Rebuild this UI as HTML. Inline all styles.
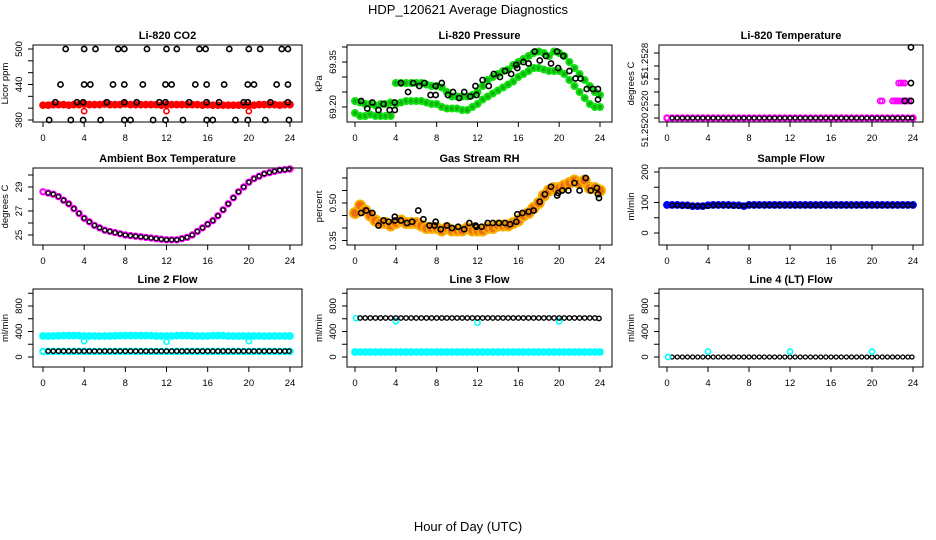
<!DOCTYPE html>
<html><head><meta charset="utf-8"><style>
html,body{margin:0;padding:0;background:#fff;}
svg{display:block;font-family:"Liberation Sans",sans-serif;}
</style></head><body>
<svg id="c" width="936" height="540" viewBox="0 0 936 540">
<text x="468" y="14" text-anchor="middle" font-size="13">HDP_120621  Average Diagnostics</text>
<text x="468" y="531" text-anchor="middle" font-size="13">Hour of Day (UTC)</text>
</svg>
<script>
const hrs=[0,0.5,1,1.5,2,2.5,3,3.5,4,4.5,5,5.5,6,6.5,7,7.5,8,8.5,9,9.5,10,10.5,11,11.5,12,12.5,13,13.5,14,14.5,15,15.5,16,16.5,17,17.5,18,18.5,19,19.5,20,20.5,21,21.5,22,22.5,23,23.5,24];
const hrsB=[0.5,1,1.5,2,2.5,3,3.5,4,4.5,5,5.5,6,6.5,7,7.5,8,8.5,9,9.5,10,10.5,11,11.5,12,12.5,13,13.5,14,14.5,15,15.5,16,16.5,17,17.5,18,18.5,19,19.5,20,20.5,21,21.5,22,22.5,23,23.5,23.9];
// CO2
const co2Red=[405,405,406,406,406,405,406,406,407,406,406,406,407,406,406,406,407,406,406,406,406,406,406,405,406,406,406,406,406,406,406,405,406,405,405,405,405,405,405,405,405,405,406,406,406,406,405,406,406];
const co2RedOutH=[4,12,20];
const co2RedOutV=[395,395,395];
const co2BlackH=[2.2,4,5.1,7.3,7.9,10.1,12,13,15.2,15.8,18.1,20,21.1,23.2,23.8, 1.7,4,4.6,6.8,7.9,9.7,11.9,12.5,14.8,15.9,17.6,19.9,20.5,22.7,23.8, 1.2,3.3,3.9,6.2,7.9,9.1,11.3,11.9,14.2,15.9,17.1,19.5,19.9,22.1,23.8, 0.6,2.7,3.9,5.6,7.9,8.5,10.7,11.9,13.6,15.9,16.5,18.7,19.9,21.6,23.9];
const co2BlackV=[500,500,500,500,500,500,500,500,500,500,500,500,500,500,500, 440,440,440,440,440,440,440,440,440,440,440,440,440,440,440, 410,410,410,410,410,410,410,410,410,410,410,410,410,410,410, 380,380,380,380,380,380,380,380,380,380,380,380,380,380,380];
// Pressure
const presA=[69.22,69.215,69.21,69.21,69.205,69.21,69.21,69.215,69.28,69.28,69.28,69.28,69.28,69.28,69.275,69.27,69.27,69.265,69.25,69.235,69.235,69.235,69.235,69.24,69.25,69.27,69.29,69.30,69.31,69.32,69.325,69.34,69.35,69.36,69.37,69.38,69.385,69.38,69.37,69.385,69.38,69.37,69.35,69.33,69.31,69.29,69.27,69.25,69.24];
const presB=[69.18,69.17,69.17,69.175,69.17,69.17,69.17,69.17,69.21,69.215,69.22,69.22,69.22,69.22,69.215,69.21,69.21,69.2,69.195,69.195,69.195,69.19,69.19,69.2,69.21,69.225,69.235,69.245,69.255,69.265,69.275,69.285,69.3,69.31,69.32,69.33,69.33,69.325,69.32,69.32,69.32,69.31,69.29,69.27,69.25,69.23,69.21,69.2,69.2];
const presBlackH=[0.6,1.2,1.7,2.3,2.8,3.4,3.9,3.9,4.5,5.2,5.7,6.3,6.8,7.4,7.9,7.9,8.5,9.1,9.6,10.2,10.7,11.3,11.8,11.9,12.5,13.1,13.6,14.2,14.7,15.3,15.8,15.9,16.5,17.0,17.6,18.1,18.7,19.2,19.8,19.9,20.4,21.0,21.6,22.1,22.7,23.3,23.8,23.8];
const presBlackV=[69.22,69.195,69.215,69.19,69.21,69.19,69.215,69.19,69.28,69.25,69.28,69.27,69.28,69.24,69.27,69.24,69.28,69.24,69.25,69.23,69.25,69.235,69.27,69.24,69.29,69.27,69.31,69.30,69.32,69.31,69.34,69.33,69.35,69.345,69.385,69.355,69.37,69.345,69.385,69.33,69.37,69.32,69.295,69.295,69.26,69.26,69.26,69.225];
// Li-820 temperature
const tempMag=[51.2520,51.2520,51.2520,51.2520,51.2520,51.2520,51.2520,51.2520,51.2520,51.2520,51.2520,51.2520,51.2520,51.2520,51.2520,51.2520,51.2520,51.2520,51.2520,51.2520,51.2520,51.2520,51.2520,51.2520,51.2520,51.2520,51.2520,51.2520,51.2520,51.2520,51.2520,51.2520,51.2520,51.2520,51.2520,51.2520,51.2520,51.2520,51.2520,51.2520,51.2520,51.2520,51.2520,51.2520,51.2520,51.2520,51.2520,51.2520,51.2520];
const tempMagHiH=[20.8,21.0,22.0,22.2,22.4,22.6,22.8,23.0,23.2,23.4,23.6,22.6,22.8,23.0,23.2];
const tempMagHiV=[51.25221,51.25221,51.25221,51.25221,51.25221,51.25221,51.25221,51.25221,51.25221,51.25221,51.25221,51.25243,51.25243,51.25243,51.25243];
const tempBlackHiH=[23.2,23.8,23.8,23.8];
const tempBlackHiV=[51.25221,51.25221,51.25243,51.25287];
// Ambient
const ambient=[28.6,28.5,28.4,28.2,27.9,27.6,27.2,26.8,26.4,26.1,25.8,25.6,25.4,25.3,25.2,25.1,25.0,24.95,24.9,24.85,24.8,24.75,24.7,24.65,24.6,24.6,24.6,24.7,24.8,25.0,25.3,25.6,25.9,26.2,26.6,27.1,27.6,28.1,28.6,29.0,29.4,29.7,29.9,30.1,30.2,30.3,30.4,30.45,30.5];
// RH
const rhBand=[0.46,0.49,0.47,0.45,0.43,0.42,0.42,0.41,0.42,0.43,0.42,0.42,0.42,0.41,0.40,0.40,0.40,0.39,0.40,0.39,0.39,0.39,0.40,0.39,0.39,0.39,0.40,0.40,0.41,0.41,0.41,0.42,0.43,0.45,0.46,0.48,0.50,0.53,0.55,0.56,0.56,0.57,0.58,0.59,0.58,0.59,0.56,0.56,0.55];
const rhBlackH=[0.6,1.1,1.7,2.3,2.8,3.3,3.9,3.9,4.5,5.1,5.6,6.2,6.7,7.3,7.8,7.9,8.4,9.0,9.5,10.1,10.7,11.2,11.8,11.9,12.4,13.0,13.5,14.1,14.7,15.2,15.8,15.9,16.4,17.0,17.5,18.1,18.6,19.2,19.8,19.9,20.3,20.9,21.5,22.0,22.6,23.1,23.7,23.8,23.9];
const rhBlackV=[0.46,0.47,0.46,0.41,0.43,0.425,0.445,0.43,0.43,0.42,0.425,0.47,0.435,0.41,0.41,0.425,0.395,0.41,0.40,0.405,0.395,0.42,0.41,0.405,0.405,0.42,0.42,0.42,0.42,0.415,0.425,0.455,0.46,0.465,0.47,0.505,0.535,0.565,0.53,0.54,0.55,0.55,0.58,0.55,0.60,0.55,0.56,0.535,0.52];
// Sample flow
const sampleBlue=[92,92,92,91,91,88,88,88,91,92,92,92,92,91,91,88,92,92,92,92,92,92,92,92,92,92,92,92,92,92,92,92,92,92,92,92,92,92,92,92,92,92,92,92,92,92,92,92,92];
const sampleBlack=[91,91,90,90,89,88,88,88,91,91,91,90,90,89,89,91,91,91,91,91,91,91,91,91,91,91,91,91,91,91,91,91,91,91,91,91,91,91,91,91,91,91,91,91,91,91,91,91];
// Line 2
const l2Cyan=[330,328,330,332,335,335,335,335,330,330,330,328,330,330,332,335,335,335,335,335,335,335,330,330,330,330,335,335,335,332,330,330,330,335,335,335,330,330,328,330,330,330,330,328,330,330,330,330,330];
const l2CyanOutH=[4,12,20];
const l2CyanOutV=[250,240,250];
const l2CyanLow=[88,88,88,88,88,88,88,88,88,88,88,88,88,88,88,88,88,88,88,88,88,88,88,88,88,88,88,88,88,88,88,88,88,88,88,88,88,88,88,88,88,88,88,88,88,88,88,88,88];
const l2Black=[92,92,92,92,92,92,92,92,92,92,92,92,92,92,92,92,92,92,92,92,92,92,92,92,92,92,92,92,92,92,92,92,92,92,92,92,92,92,92,92,92,92,92,92,92,92,92,92];
// Line 3
const l3Black=[612,612,612,612,612,612,612,612,612,612,612,612,612,612,612,612,612,612,612,612,612,612,612,612,612,612,612,612,612,612,612,612,612,612,612,612,612,612,612,612,612,612,612,612,612,612,612,605];
const l3Cyan=[78,78,78,78,78,78,78,78,78,78,78,78,78,78,78,78,78,78,78,78,78,78,78,78,78,78,78,78,78,78,78,78,78,78,78,78,78,78,78,78,78,78,78,78,78,78,78,78,78];
const l3CyanOutH=[0.1,4,12,20];
const l3CyanOutV=[610,560,540,560];
// Line 4
const l4Black=[0,0,0,0,0,0,0,0,0,0,0,0,0,0,0,0,0,0,0,0,0,0,0,0,0,0,0,0,0,0,0,0,0,0,0,0,0,0,0,0,0,0,0,0,0,0,0,0];
const l4CyanH=[0.1,4,12,20];
const l4CyanV=[0,85,85,85];

const xTicks=[0,4,8,12,16,20,24];
const NS='http://www.w3.org/2000/svg';
const svg=document.getElementById('c');
function mk(tag,attrs,parent){const e=document.createElementNS(NS,tag);for(const k in attrs)e.setAttribute(k,attrs[k]);(parent||svg).appendChild(e);return e;}

function panel(name,title,ylab,l,r,t,b,x0,x24,v1,y1,v2,y2,yTicks,yLabels,yLabelPos){
  const g=mk('g',{});
  
  
  const X=h=>x0+(x24-x0)*h/24;
  const Y=v=>y1+(y2-y1)*(v-v1)/(v2-v1);
  const tt=mk('text',{x:(l+r)/2,y:t-6,'text-anchor':'middle','font-size':11,'font-weight':'bold'},g);
  tt.textContent=title;
  
  
  const yt=mk('text',{transform:`translate(${l-25},${(t+b)/2}) rotate(-90)`,'text-anchor':'middle','font-size':9.5},g);
  yt.textContent=ylab;
  
  
  const xa=mk('g',{},g);
  
  
  mk('line',{x1:X(0),x2:X(24),y1:b,y2:b,stroke:'#000'},xa);
  xTicks.forEach(h=>{
    mk('line',{x1:X(h),x2:X(h),y1:b,y2:b+5,stroke:'#000'},xa);
    const tx=mk('text',{x:X(h),y:b+19,'text-anchor':'middle','font-size':9.5},xa);
    tx.textContent=h;
  });
  const ya=mk('g',{},g);
  
  
  mk('line',{x1:l,x2:l,y1:Y(yTicks[0]),y2:Y(yTicks[yTicks.length-1]),stroke:'#000'},ya);
  yTicks.forEach(v=>mk('line',{x1:l-5,x2:l,y1:Y(v),y2:Y(v),stroke:'#000'},ya));
  yLabels.forEach((s,i)=>{
    const yy=yLabelPos?yLabelPos[i]:Y(parseFloat(s));
    const tx=mk('text',{transform:`translate(${l-11},${yy}) rotate(-90)`,'text-anchor':'middle','font-size':9.5},ya);
    tx.textContent=s;
  });
  const plot=mk('g',{},g);
  
  
  mk('rect',{x:l,y:t,width:r-l,height:b-t,fill:'none',stroke:'#000'},g);
  return {X,Y,plot};
}
function pts(P,name,hs,vs,color,opts){
  const o=opts||{};
  const g=mk('g',{},P.plot);
  
  
  for(let i=0;i<vs.length;i++){
    mk('circle',{cx:P.X(hs[i]),cy:P.Y(vs[i]),r:o.r||2.6,fill:o.fill||'none',stroke:color,'stroke-width':o.sw||1.6},g);
  }
}
const C1=[33,302,43,290],C2=[347,612,355,600],C3=[659,923,667,913];
const R1=[45,122],R2=[168,245],R3=[289,367];

let P=panel('co2','Li-820 CO2','Licor ppm',C1[0],C1[1],R1[0],R1[1],C1[2],C1[3],500,49,380,120,[380,400,420,440,460,480,500],['380','440','500']);
pts(P,'co2-red-series',hrs,co2Red,'#f00',{r:2.6,sw:2.5,fill:'#f00'});
pts(P,'co2-red-outliers',co2RedOutH,co2RedOutV,'#f00');
pts(P,'co2-black-series',co2BlackH,co2BlackV,'#000');

P=panel('pressure','Li-820 Pressure','kPa',C2[0],C2[1],R1[0],R1[1],C2[2],C2[3],69.35,62,69.20,107,[69.20,69.25,69.30,69.35,69.40],['69.20','69.35']);
pts(P,'pressure-green-upper',hrs,presA,'#10e010',{r:3,sw:2,fill:'#10b010'});
pts(P,'pressure-green-lower',hrs,presB,'#10e010',{r:3,sw:2,fill:'#10b010'});
pts(P,'pressure-black-series',presBlackH,presBlackV,'#000');

P=panel('li820-temp','Li-820 Temperature','degrees C',C3[0],C3[1],R1[0],R1[1],C3[2],C3[3],51.2520,118,51.2528,53,[51.2520,51.25216,51.25232,51.25248,51.25264,51.2528],['51.2528','51','2520','51.2520'],[60,80,101,130]);
pts(P,'temp-magenta-series',hrs,tempMag,'#f0f',{r:2.6,sw:2.2});
pts(P,'temp-magenta-high',tempMagHiH,tempMagHiV,'#f0f');
pts(P,'temp-black-series',hrsB,tempMag.slice(0,48),'#000',{r:2,sw:1.3});
pts(P,'temp-black-high',tempBlackHiH,tempBlackHiV,'#000');

P=panel('ambient','Ambient Box Temperature','degrees C',C1[0],C1[1],R2[0],R2[1],C1[2],C1[3],29,187,25,235,[25,26,27,28,29,30],['25','27','29']);
pts(P,'ambient-magenta-series',hrs,ambient,'#f0f',{r:2.6,sw:2.2});
pts(P,'ambient-black-series',hrsB,ambient.slice(1),'#000',{r:2,sw:1.3});

P=panel('rh','Gas Stream RH','percent',C2[0],C2[1],R2[0],R2[1],C2[2],C2[3],0.50,203,0.35,240.5,[0.35,0.40,0.45,0.50,0.55,0.60],['0.35','0.50']);
pts(P,'rh-orange-band',hrs,rhBand,'#f5b000',{r:5,sw:2,fill:'#f06a10'});
pts(P,'rh-black-series',rhBlackH,rhBlackV,'#000');

P=panel('sample-flow','Sample Flow','ml/min',C3[0],C3[1],R2[0],R2[1],C3[2],C3[3],0,233,200,172,[0,50,100,150,200],['0','100','200']);
pts(P,'sample-blue-series',hrs,sampleBlue,'#00f',{r:2.8,sw:2.2,fill:'#00f'});
pts(P,'sample-black-series',hrsB,sampleBlack,'#000',{r:2.2,sw:1.4});

const fT=[0,200,400,600,800,1000],fL=['0','400','800'];
P=panel('line2','Line 2 Flow','ml/min',C1[0],C1[1],R3[0],R3[1],C1[2],C1[3],0,357,800,306,fT,fL);
pts(P,'line2-cyan-series',hrs,l2Cyan,'#0ff',{r:2.8,sw:2.2,fill:'#0ff'});
pts(P,'line2-cyan-outliers',l2CyanOutH,l2CyanOutV,'#0ff');
pts(P,'line2-cyan-low',hrs,l2CyanLow,'#0ff',{r:2.8,sw:2});
pts(P,'line2-black-series',hrsB,l2Black,'#000',{r:2.2,sw:1.4});

P=panel('line3','Line 3 Flow','ml/min',C2[0],C2[1],R3[0],R3[1],C2[2],C2[3],0,357,800,306,fT,fL);
pts(P,'line3-cyan-series',hrs,l3Cyan,'#0ff',{r:2.8,sw:2.2,fill:'#0ff'});
pts(P,'line3-cyan-outliers',l3CyanOutH,l3CyanOutV,'#0ff');
pts(P,'line3-black-series',hrsB,l3Black,'#000',{r:2.2,sw:1.4});

P=panel('line4','Line 4 (LT) Flow','ml/min',C3[0],C3[1],R3[0],R3[1],C3[2],C3[3],0,357,800,306,fT,fL);
pts(P,'line4-black-series',hrsB,l4Black,'#000',{r:2,sw:1.3});
pts(P,'line4-cyan-points',l4CyanH,l4CyanV,'#0ff');
</script>
</body></html>
